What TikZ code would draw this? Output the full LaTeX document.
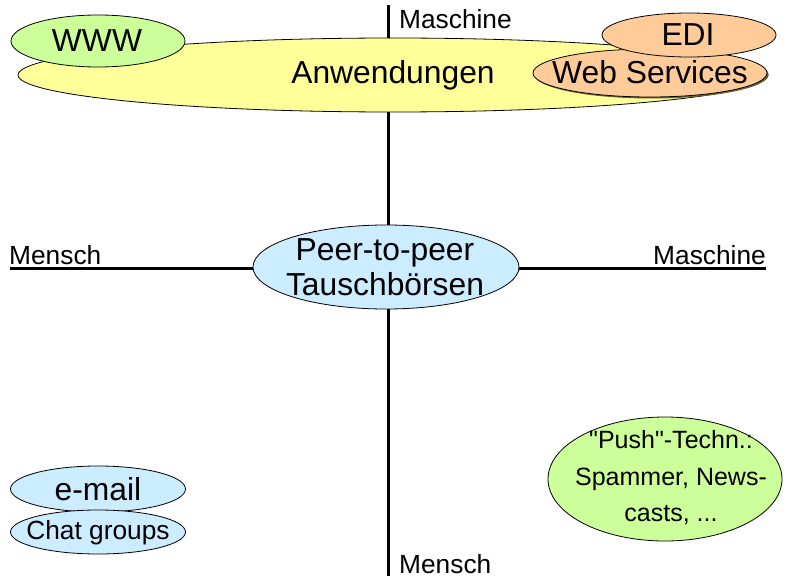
\documentclass[tikz,border=0pt]{standalone}
\usepackage{fontspec}
\setmainfont{Liberation Sans}[Ligatures=TeXOff]
\usetikzlibrary{shapes.geometric}
\definecolor{cyellow}{HTML}{FFFF99}
\definecolor{cgreen}{HTML}{CCFF99}
\definecolor{corange}{HTML}{FFCC99}
\definecolor{cblue}{HTML}{CCECFF}
\definecolor{cshadow}{HTML}{666633}
\tikzset{
  ell/.style={ellipse, draw=black, line width=0.8pt, inner sep=0pt},
  txt/.style={inner sep=0pt, align=center},
  axis/.style={line width=3pt},
  lbl/.style={inner sep=0pt, font=\fontsize{26.3}{30}\selectfont},
  big/.style={font=\fontsize{31.8}{36}\selectfont},
}
\begin{document}
\begin{tikzpicture}[x=1pt,y=-1pt]
\useasboundingbox (0,0) rectangle (790,578);
% axes
\coordinate (top) at (388,5);
\coordinate (bot) at (388,576);
\coordinate (lft) at (10,268);
\coordinate (rgt) at (766,268);
\draw[axis] (top) -- (bot);
\draw[axis] (lft) -- (rgt);
% axis labels
\node[lbl, anchor=west] (lmt) at (399,19) {Maschine};
\node[lbl, anchor=west] (lmb) at (399,564) {Mensch};
\node[lbl, anchor=west] (lml) at (9,255) {Mensch};
\node[lbl, anchor=east] (lmr) at (766,255) {Maschine};
% top cluster
\node[ell, fill=cyellow, minimum width=750pt, minimum height=74pt] (anw) at (393,75) {};
\node[txt, big] (anwt) at (393,75) {Anwendungen};
\node[ell, fill=cgreen, minimum width=174pt, minimum height=52pt] (www) at (98,41) {};
\node[txt, big] (wwwt) at (97,41) {WWW};
\node[ellipse, fill=cshadow, inner sep=0pt, minimum width=234pt, minimum height=48pt] (wssh) at (651.5,74.5) {};
\node[ell, fill=corange, minimum width=234pt, minimum height=48pt] (ws) at (650,73) {};
\node[txt, big] (wst) at (650,72) {Web Services};
\node[ell, fill=corange, minimum width=174pt, minimum height=44pt] (edi) at (689,35) {};
\node[txt, big] (edit) at (688,35) {EDI};
% center
\node[ell, fill=cblue, minimum width=266pt, minimum height=84pt] (p2p) at (386,267) {};
\node[txt, font=\fontsize{31.8}{35}\selectfont] (p2pt) at (385,267) {Peer-to-peer\\Tauschbörsen};
% bottom left
\node[ell, fill=cblue, minimum width=175pt, minimum height=46pt] (mail) at (98,489) {};
\node[txt, big] (mailt) at (98,489) {e-mail};
\node[ell, fill=cblue, minimum width=175pt, minimum height=44pt] (chat) at (98,532) {};
\node[txt, font=\fontsize{26.3}{30}\selectfont] (chatt) at (98,533) {Chat groups};
% bottom right
\node[ell, fill=cgreen, minimum width=234pt, minimum height=124pt] (push) at (665,479) {};
\node[txt, font=\fontsize{25}{36.5}\selectfont] (pusht) at (671,478) {"Push"-Techn.:\\Spammer, News-\\casts, ...};
\end{tikzpicture}
\end{document}
